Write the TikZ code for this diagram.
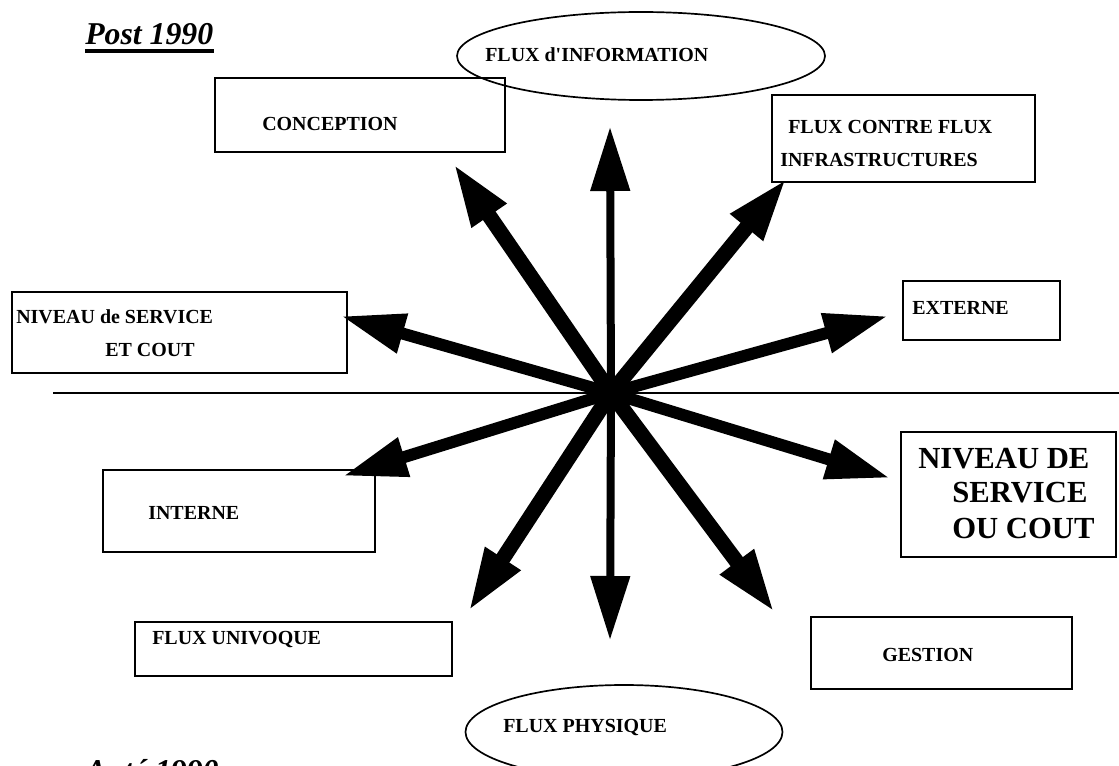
\documentclass[tikz,border=0pt]{standalone}
\usepackage{fontspec}
\newfontfamily\labelfont{Liberation Serif}
\usetikzlibrary{arrows.meta,shapes.geometric}

\tikzset{
  box/.style={draw, line width=1.2pt, rectangle, inner sep=0pt},
  oval/.style={draw, line width=1.2pt, ellipse, inner sep=0pt},
  lbl/.style={font=\labelfont\bfseries\fontsize{14.2}{17}\selectfont, inner sep=0pt, anchor=west},
  biglbl/.style={font=\labelfont\bfseries\fontsize{21.8}{26}\selectfont, inner sep=0pt, anchor=west},
  period/.style={font=\labelfont\bfseries\itshape\fontsize{22.6}{27}\selectfont, inner sep=0pt, anchor=base west},
  flux/.style={line width=0.3cm, -{Triangle[length=1.6cm,width=0.95cm]}},
}

\begin{document}
\begin{tikzpicture}[scale=1]
\useasboundingbox (0,0) rectangle (27.975,19.125);

% periods
\node[period] (post) at (2.125,18.0){Post 1990};
\draw[line width=0.1cm] ([yshift=-0.15cm]post.base west) -- ([yshift=-0.15cm]post.base east);
\node[period] (ante) at (2.125,-0.4){Anté 1990};
\draw[line width=0.1cm] ([yshift=-0.15cm]ante.base west) -- ([yshift=-0.15cm]ante.base east);

% separation line
\coordinate (c) at (15.275,9.3);
\coordinate (sepL) at (1.325,9.3);
\coordinate (sepR) at (27.975,9.3);
\draw[line width=1pt] (sepL) -- (sepR);

% flows (ellipses)
\node[oval, minimum width=9.2cm, minimum height=2.2cm] (info) at (16.025,17.725){};
\node[lbl] at (12.125,17.75){FLUX d'INFORMATION};
\node[oval, minimum width=7.925cm, minimum height=2.35cm] (phys) at (15.6,0.825){};
\node[lbl] at (12.575,0.925){FLUX PHYSIQUE};

% boxes
\node[box, minimum width=7.25cm, minimum height=1.85cm] (conc) at (9.0,16.25){};
\node[lbl] at (6.55,16.025){CONCEPTION};

\node[box, minimum width=6.575cm, minimum height=2.175cm] (fcf) at (22.5875,15.6625){};
\node[lbl] at (19.7,15.95){FLUX CONTRE FLUX};
\node[lbl] at (19.5,15.125){INFRASTRUCTURES};

\node[box, minimum width=3.925cm, minimum height=1.475cm] (ext) at (24.5375,11.3625){};
\node[lbl] at (22.8,11.425){EXTERNE};

\node[box, minimum width=8.375cm, minimum height=2.025cm] (nsl) at (4.4875,10.8125){};
\node[lbl] at (0.4,11.2){NIVEAU de SERVICE};
\node[lbl] at (2.625,10.375){ET COUT};

\node[box, minimum width=6.8cm, minimum height=2.05cm] (int) at (5.975,6.35){};
\node[lbl] at (3.7,6.3){INTERNE};

\node[box, minimum width=5.375cm, minimum height=3.125cm] (nsr) at (25.2125,6.7625){};
\node[biglbl] at (22.95,7.65){NIVEAU DE};
\node[biglbl] at (23.8,6.8){SERVICE};
\node[biglbl] at (23.8,5.925){OU COUT};

\node[box, minimum width=6.525cm, minimum height=1.8cm] (gest) at (23.5375,2.8){};
\node[lbl] at (22.05,2.75){GESTION};

\node[box, minimum width=7.925cm, minimum height=1.35cm] (univ) at (7.3375,2.9){};
\node[lbl] at (3.8,3.125){FLUX UNIVOQUE};

% arrow tips
\coordinate (tUp) at (15.25,15.95);
\coordinate (tDown) at (15.25,3.125);
\coordinate (tConc) at (11.325,15.05);
\coordinate (tFcf) at (19.675,14.675);
\coordinate (tExt) at (22.2,11.225);
\coordinate (tNsl) at (8.525,11.225);
\coordinate (tInt) at (8.575,7.225);
\coordinate (tNsr) at (22.25,7.175);
\coordinate (tUniv) at (11.7,3.825);
\coordinate (tGest) at (19.375,3.8);

% the star of arrows
\draw[flux, line width=0.2cm] (c) -- (tUp);
\draw[flux, line width=0.2cm] (c) -- (tDown);
\draw[flux, line width=0.38cm] (c) -- (tConc);
\draw[flux, line width=0.38cm] (c) -- (tFcf);
\draw[flux, line width=0.38cm] (c) -- (tUniv);
\draw[flux, line width=0.38cm] (c) -- (tGest);
\draw[flux] (c) -- (tExt);
\draw[flux] (c) -- (tNsl);
\draw[flux] (c) -- (tInt);
\draw[flux] (c) -- (tNsr);
\end{tikzpicture}
\end{document}
